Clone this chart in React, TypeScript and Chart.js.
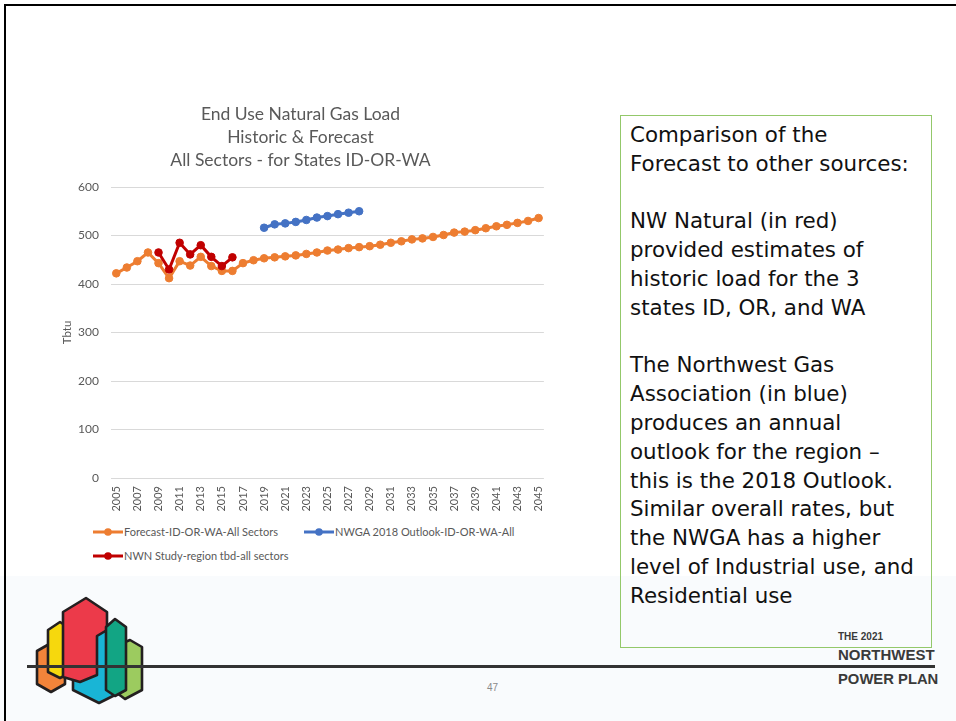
import React, { useEffect, useRef } from 'react';
import { Chart, registerables } from 'chart.js';

Chart.register(...registerables);

// ---------- data ----------
const years = [
  '2005', '2006', '2007', '2008', '2009', '2010', '2011', '2012', '2013', '2014',
  '2015', '2016', '2017', '2018', '2019', '2020', '2021', '2022', '2023', '2024',
  '2025', '2026', '2027', '2028', '2029', '2030', '2031', '2032', '2033', '2034',
  '2035', '2036', '2037', '2038', '2039', '2040', '2041', '2042', '2043', '2044', '2045',
];

const forecastValues = [
  422, 434, 447, 465, 443, 412, 447, 438, 456, 437,
  427, 427, 443, 449, 453, 455, 457, 459, 462, 465,
  469, 471, 474, 476, 478, 481, 485, 488, 492, 494,
  497, 501, 506, 508, 511, 515, 519, 522, 526, 530, 536,
];

const nwgaYears = ['2019', '2020', '2021', '2022', '2023', '2024', '2025', '2026', '2027', '2028'];
const nwgaValues = [516, 523, 525, 528, 532, 537, 540, 544, 547, 550];

const nwnYears = ['2009', '2010', '2011', '2012', '2013', '2014', '2015', '2016'];
const nwnValues = [465, 430, 485, 461, 480, 456, 437, 455];

const titleLines = ['End Use Natural Gas Load', 'Historic & Forecast', 'All Sectors - for States ID-OR-WA'];
const seriesNames = ['Forecast-ID-OR-WA-All Sectors', 'NWGA 2018 Outlook-ID-OR-WA-All', 'NWN Study-region tbd-all sectors'];
const yTitle = 'Tbtu';

const ORANGE = '#ED7D31';
const BLUE = '#4472C4';
const RED = '#C00000';
const TEXT = '#595959';

function align(ys: string[], vs: number[]) {
  return years.map((y) => {
    const i = ys.indexOf(y);
    return i >= 0 ? vs[i] : null;
  });
}

function LegendMark({ color }: { color: string }) {
  return (
    <svg width="30" height="10" style={{ display: 'block' }}>
      <line x1="0" y1="5" x2="30" y2="5" stroke={color} strokeWidth="3" />
      <circle cx="15" cy="5" r="3.8" fill={color} />
    </svg>
  );
}

function Logo() {
  const s = '#231f20';
  const w = 2.6;
  return (
    <svg width="160" height="130" style={{ position: 'absolute', left: 0, top: 590 }} viewBox="0 590 160 130">
      <polygon points="130,640 142,647 142,690 125,699 113,690 113,647" fill="#9ccb5f" stroke={s} strokeWidth={w} strokeLinejoin="round" />
      <polygon points="99,628 125,642 125,690 99,703 73,690 73,642" fill="#19b5d6" stroke={s} strokeWidth={w} strokeLinejoin="round" />
      <polygon points="51,643 65,651 65,684 51,692 37,684 37,651" fill="#f3843a" stroke={s} strokeWidth={w} strokeLinejoin="round" />
      <polygon points="60,622 72,630 72,672 60,678 48,672 48,630" fill="#f6d80d" stroke={s} strokeWidth={w} strokeLinejoin="round" />
      <polygon points="86,598 107,612 107,630 97,636 97,675 80,682 63,677 63,612" fill="#ec3a4a" stroke={s} strokeWidth={w} strokeLinejoin="round" />
      <polygon points="115,619 126,627 126,690 115,696 106,690 106,627" fill="#12a584" stroke={s} strokeWidth={w} strokeLinejoin="round" />
    </svg>
  );
}

export default function App() {
  const canvasRef = useRef<HTMLCanvasElement | null>(null);

  useEffect(() => {
    const canvas = canvasRef.current;
    if (!canvas) return;
    const tickFont = { family: 'Lato', size: 11 };
    const common = { borderWidth: 3, pointRadius: 3.8, pointBorderWidth: 1, spanGaps: false };
    const chart = new Chart(canvas, {
      type: 'line',
      data: {
        labels: years,
        datasets: [
          {
            ...common,
            label: seriesNames[0],
            data: forecastValues,
            borderColor: ORANGE,
            backgroundColor: ORANGE,
            pointBackgroundColor: ORANGE,
            pointBorderColor: ORANGE,
            order: 3,
          },
          {
            ...common,
            label: seriesNames[1],
            data: align(nwgaYears, nwgaValues),
            borderColor: BLUE,
            backgroundColor: BLUE,
            pointBackgroundColor: BLUE,
            pointBorderColor: BLUE,
            order: 2,
          },
          {
            ...common,
            label: seriesNames[2],
            data: align(nwnYears, nwnValues),
            borderColor: RED,
            backgroundColor: RED,
            pointBackgroundColor: RED,
            pointBorderColor: RED,
            order: 1,
          },
        ],
      },
      options: {
        responsive: false,
        animation: false,
        layout: { padding: { left: 16, right: 15, top: 0, bottom: 5 } },
        plugins: {
          legend: { display: false },
          tooltip: { enabled: false },
          title: {
            display: true,
            text: titleLines,
            color: TEXT,
            font: { family: 'Lato', size: 17.5, weight: 'normal', lineHeight: 23 / 17.5 },
            padding: { top: 7.5, bottom: 15.5 },
          },
        },
        scales: {
          x: {
            offset: true,
            grid: { display: false, drawTicks: false },
            border: { display: false },
            ticks: {
              autoSkip: false,
              minRotation: 90,
              maxRotation: 90,
              padding: 8,
              color: TEXT,
              font: tickFont,
              callback: (_v: any, i: number) => (i % 2 === 0 ? years[i] : ''),
            },
            afterFit: (s: any) => {
              s.height = 40;
            },
          },
          y: {
            min: 0,
            max: 600,
            ticks: { stepSize: 100, padding: 12, color: TEXT, font: { family: 'Lato', size: 12 } },
            grid: { color: '#d9d9d9', lineWidth: 1, drawTicks: false },
            border: { display: false },
            title: {
              display: true,
              text: yTitle,
              color: TEXT,
              font: { family: 'Lato', size: 11.5 },
              padding: { top: 4, bottom: 4 },
            },
            afterFit: (s: any) => {
              s.width = 55;
            },
          },
        },
      },
    } as any);
    return () => chart.destroy();
  }, []);

  const legendText: React.CSSProperties = {
    fontFamily: 'Lato, sans-serif',
    fontSize: 11,
    color: TEXT,
    whiteSpace: 'nowrap',
    lineHeight: '14px',
  };

  const boxText: string[] = [
    'Comparison of the',
    'Forecast to other sources:',
    '',
    'NW Natural (in red)',
    'provided estimates of',
    'historic load for the 3',
    'states ID, OR, and WA',
    '',
    'The Northwest Gas',
    'Association (in blue)',
    'produces an annual',
    'outlook for the region \u2013',
    'this is the 2018 Outlook.',
    'Similar overall rates, but',
    'the NWGA has a higher',
    'level of Industrial use, and',
    'Residential use',
  ];

  const brand: React.CSSProperties = {
    position: 'absolute',
    left: 838,
    fontFamily: '"Liberation Sans", Arial, sans-serif',
    fontWeight: 'bold',
    color: '#3a3a3a',
    whiteSpace: 'nowrap',
  };

  return (
    <div
      style={{
        position: 'fixed',
        left: 0,
        top: 0,
        width: 956,
        height: 721,
        overflow: 'hidden',
        background: '#ffffff',
      }}
    >
      {/* light tint at the bottom of the slide */}
      <div style={{ position: 'absolute', left: 0, top: 576, width: 956, height: 145, background: '#f9fbfd' }} />
      {/* slide frame */}
      <div
        style={{
          position: 'absolute',
          left: 4,
          top: 4,
          width: 1000,
          height: 800,
          borderTop: '2px solid #000',
          borderLeft: '2px solid #000',
        }}
      />

      {/* chart */}
      <canvas
        ref={canvasRef}
        width={520}
        height={428}
        style={{ position: 'absolute', left: 40, top: 95, width: 520, height: 428 }}
      />

      {/* legend */}
      <div style={{ position: 'absolute', left: 93, top: 527 }}>
        <LegendMark color={ORANGE} />
      </div>
      <div style={{ ...legendText, position: 'absolute', left: 124, top: 525 }}>{seriesNames[0]}</div>
      <div style={{ position: 'absolute', left: 304, top: 527 }}>
        <LegendMark color={BLUE} />
      </div>
      <div style={{ ...legendText, position: 'absolute', left: 335, top: 525 }}>{seriesNames[1]}</div>
      <div style={{ position: 'absolute', left: 93, top: 551 }}>
        <LegendMark color={RED} />
      </div>
      <div style={{ ...legendText, position: 'absolute', left: 124, top: 549 }}>{seriesNames[2]}</div>

      {/* text box */}
      <div
        style={{
          position: 'absolute',
          left: 620,
          top: 115,
          width: 312,
          height: 533,
          border: '1px solid #93c86a',
          boxSizing: 'border-box',
        }}
      />
      <div
        style={{
          position: 'absolute',
          left: 630,
          top: 121,
          fontFamily: '"DejaVu Sans", sans-serif',
          fontSize: 21.4,
          lineHeight: '28.8px',
          color: '#111',
          whiteSpace: 'pre',
        }}
      >
        {boxText.map((t, i) => (
          <div key={i} style={{ height: 28.8 }}>{t}</div>
        ))}
      </div>

      {/* logo and bottom rule */}
      <Logo />
      <div style={{ position: 'absolute', left: 27, top: 665, width: 908, height: 3, background: '#333' }} />

      <div style={{ ...brand, top: 631, fontSize: 10 }}>THE 2021</div>
      <div style={{ ...brand, top: 646, fontSize: 15, lineHeight: '18px' }}>NORTHWEST</div>
      <div style={{ ...brand, top: 670, fontSize: 14.8, lineHeight: '18px' }}>POWER PLAN</div>
      <div
        style={{
          position: 'absolute',
          left: 487,
          top: 682,
          fontFamily: '"Liberation Sans", Arial, sans-serif',
          fontSize: 10,
          color: '#8a8a8a',
        }}
      >
        47
      </div>
    </div>
  );
}
